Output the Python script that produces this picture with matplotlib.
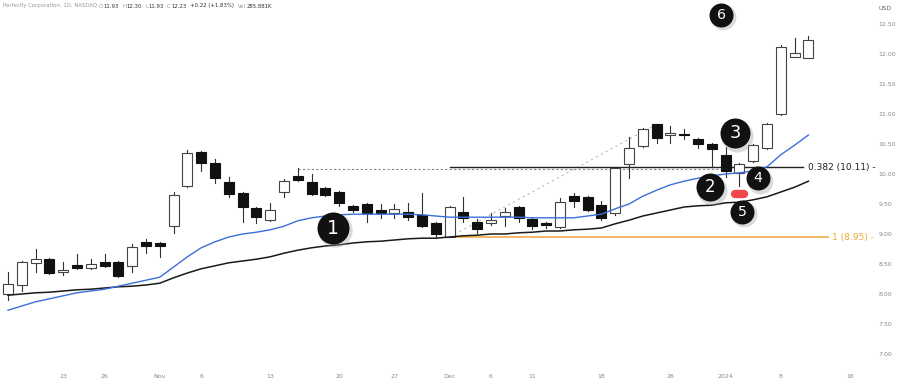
import numpy as np
from matplotlib import pyplot as plt
from matplotlib.patches import Rectangle, FancyBboxPatch

# daily OHLC, Oct 17 2023 .. Jan 10 2024
opens = [8.00, 8.15, 8.52, 8.58, 8.37, 8.48, 8.43, 8.53, 8.53, 8.47,
         8.87, 8.85, 9.13, 9.80, 10.37, 10.18, 9.87, 9.68, 9.43, 9.23,
         9.70, 9.97, 9.87, 9.77, 9.70, 9.47, 9.50, 9.40, 9.35, 9.37,
         9.32, 9.18, 8.95, 9.37, 9.20, 9.18, 9.30, 9.45, 9.25, 9.18,
         9.12, 9.63, 9.62, 9.48, 9.35, 10.17, 10.47, 10.83, 10.65, 10.67,
         10.58, 10.50, 10.32, 10.02, 10.22, 10.43, 11.00, 11.95, 11.93]
highs = [8.37, 8.55, 8.75, 8.60, 8.53, 8.67, 8.58, 8.67, 8.55, 8.83,
         8.92, 8.87, 9.70, 10.40, 10.38, 10.25, 9.95, 9.70, 9.45, 9.52,
         9.92, 10.10, 10.00, 9.78, 9.72, 9.48, 9.52, 9.50, 9.50, 9.52,
         9.68, 9.20, 9.47, 9.62, 9.25, 9.35, 9.43, 9.47, 9.27, 9.20,
         9.60, 9.68, 9.63, 9.55, 10.10, 10.62, 10.77, 10.83, 10.80, 10.75,
         10.60, 10.52, 10.45, 10.18, 10.50, 10.85, 12.15, 12.27, 12.30]
lows = [7.90, 8.05, 8.37, 8.33, 8.32, 8.42, 8.42, 8.45, 8.28, 8.37,
        8.68, 8.62, 9.02, 9.78, 10.05, 9.85, 9.62, 9.20, 9.18, 9.22,
        9.62, 9.88, 9.65, 9.63, 9.47, 9.37, 9.20, 9.27, 9.27, 9.23,
        9.12, 8.93, 8.95, 9.20, 9.02, 9.15, 9.13, 9.20, 9.08, 9.10,
        9.10, 9.45, 9.38, 9.23, 9.32, 9.93, 10.45, 10.52, 10.52, 10.58,
        10.43, 10.12, 9.95, 9.80, 10.20, 10.42, 10.98, 11.95, 11.93]
closes = [8.17, 8.53, 8.58, 8.35, 8.40, 8.43, 8.50, 8.47, 8.30, 8.78,
          8.80, 8.80, 9.65, 10.35, 10.18, 9.93, 9.67, 9.45, 9.28, 9.40,
          9.88, 9.90, 9.67, 9.65, 9.52, 9.40, 9.35, 9.35, 9.42, 9.28,
          9.13, 9.00, 9.45, 9.27, 9.08, 9.23, 9.37, 9.27, 9.13, 9.15,
          9.53, 9.55, 9.40, 9.27, 10.10, 10.43, 10.75, 10.60, 10.68, 10.65,
          10.50, 10.42, 10.05, 10.17, 10.48, 10.83, 12.12, 12.01, 12.23]

ma_fast = [7.73, 7.80, 7.87, 7.92, 7.97, 8.02, 8.05, 8.08, 8.13, 8.18,
           8.23, 8.28, 8.45, 8.62, 8.77, 8.87, 8.95, 9.00, 9.03, 9.07,
           9.13, 9.22, 9.27, 9.30, 9.32, 9.33, 9.33, 9.33, 9.33, 9.33,
           9.32, 9.30, 9.28, 9.28, 9.28, 9.28, 9.28, 9.28, 9.27, 9.27,
           9.27, 9.27, 9.30, 9.33, 9.42, 9.50, 9.63, 9.73, 9.82, 9.88,
           9.93, 9.97, 10.00, 10.02, 10.05, 10.12, 10.32, 10.48, 10.65]
ma_slow = [7.98, 8.00, 8.02, 8.03, 8.05, 8.07, 8.08, 8.10, 8.12, 8.13,
           8.15, 8.18, 8.27, 8.35, 8.42, 8.47, 8.52, 8.55, 8.58, 8.62,
           8.68, 8.73, 8.77, 8.80, 8.82, 8.85, 8.87, 8.88, 8.90, 8.92,
           8.93, 8.93, 8.95, 8.97, 8.98, 9.00, 9.00, 9.02, 9.03, 9.05,
           9.05, 9.07, 9.08, 9.10, 9.17, 9.23, 9.30, 9.35, 9.40, 9.45,
           9.47, 9.48, 9.52, 9.53, 9.57, 9.62, 9.70, 9.78, 9.88]

tick_pos = [4, 7, 11, 14, 19, 24, 28, 32, 35, 38, 43, 48, 52, 56, 61]
tick_lab = ['23', '26', 'Nov', '6', '13', '20', '27', 'Dec', '6', '11',
            '18', '26', '2024', '8', '16']
price_ticks = [7.0, 7.5, 8.0, 8.5, 9.0, 9.5, 10.0, 10.5, 11.0, 11.5, 12.0, 12.5]

# fib swing: low of Dec 1 to high of Dec 27
fib_low = (32, 8.95)
fib_high = (47, 10.83)
fib_level = 10.11
prior_high = (21, 10.09)

# numbered markers (index, price, label, radius px)
markers = [(23.55, 9.10, '1', 16), (50.9, 9.78, '2', 14), (52.7, 10.68, '3', 15),
           (54.35, 9.93, '4', 12), (53.2, 9.37, '5', 12), (51.7, 12.65, '6', 12)]
red_mark = (53.0, 9.67)

fig = plt.figure(figsize=(9, 3.85), dpi=100)
ax = fig.add_axes([0, 15 / 385, 870 / 900, 370 / 385])
px = 13.8
ax.set_xlim(-8 / px, (870 - 8) / px)
ax.set_ylim(10 - 196 / 60, 10 + 174 / 60)

w = 0.72
for i in range(len(opens)):
    o, h, l, c = opens[i], highs[i], lows[i], closes[i]
    up = c >= o
    ax.plot([i, i], [l, h], color='#333333', lw=0.8, zorder=2)
    lo, hi = min(o, c), max(o, c)
    ax.add_patch(Rectangle((i - w / 2, lo), w, max(hi - lo, 0.012),
                           facecolor='white' if up else '#111111',
                           edgecolor='#444444' if up else '#111111',
                           lw=0.8, zorder=3))

x = np.arange(len(opens))
ax.plot(x, ma_slow, color='#1a1a1a', lw=1.1, zorder=4)
ax.plot(x, ma_fast, color='#3b6fd8', lw=1.0, zorder=4)

# prior high dotted line and fib lines
ax.plot([prior_high[0], 52], [prior_high[1]] * 2, color='#888888', lw=0.8,
        ls=(0, (2, 2)), zorder=1)
ax.plot([fib_low[0], fib_high[0]], [fib_low[1], fib_high[1]], color='#bbbbbb',
        lw=0.8, ls=(0, (2, 3)), zorder=1)
ax.plot([fib_low[0], (803 - 8) / px], [fib_level] * 2, color='#222222', lw=1.0, zorder=1)
ax.plot([fib_low[0], (828 - 8) / px], [fib_low[1]] * 2, color='#f2a531', lw=1.1, zorder=1)
ax.text((808 - 8) / px, fib_level, '0.382 (10.11) -', fontsize=6.5, color='#222222',
        va='center', ha='left')
ax.text((832 - 8) / px, fib_low[1], '1 (8.95) -', fontsize=6.5, color='#f2a531',
        va='center', ha='left')

for mx, my, lab, r in markers:
    s = (2 * r * 0.72) ** 2
    ax.scatter([mx + 0.12], [my - 0.04], s=s * 1.15, color='#999999', alpha=0.35,
               zorder=6, lw=0)
    ax.scatter([mx], [my], s=s, color='#111111', zorder=7, lw=0)
    ax.text(mx, my, lab, color='white', fontsize=r * 0.85, ha='center',
            va='center', zorder=8)

# red pill under the Jan 3 candle
ax.plot([red_mark[0] - 0.35, red_mark[0] + 0.35], [red_mark[1]] * 2, color='#f04848',
        lw=6, solid_capstyle='round', zorder=6)

for sp in ax.spines.values():
    sp.set_visible(False)
ax.set_xticks(tick_pos)
ax.set_xticklabels(tick_lab)
ax.yaxis.tick_right()
ax.set_yticks(price_ticks)
ax.set_yticklabels(['%.2f' % p for p in price_ticks])
ax.tick_params(axis='both', length=0, labelsize=4.5, colors='#888888')
ax.tick_params(axis='y', pad=6)
ax.tick_params(axis='x', pad=3)

fig.text(885 / 900, 1 - 8 / 385, 'USD', fontsize=4.5, color='#666666',
         ha='center', va='center')

# header, pieces chained one after another
head = [('Perfectly Corporation, 1D, NASDAQ', '#9a9a9a', 2), ('O', '#9a9a9a', 0.5),
        ('11.93', '#333333', 3), ('H', '#9a9a9a', 0.5), ('12.30', '#333333', 3),
        ('L', '#9a9a9a', 0.5), ('11.93', '#333333', 3), ('C', '#9a9a9a', 0.5),
        ('12.23', '#333333', 4), ('+0.22 (+1.83%)', '#333333', 4),
        ('Vol', '#9a9a9a', 0.5), ('285.881K', '#333333', 0)]
renderer = fig.canvas.get_renderer()
hx = 3
for ht, hc, gap in head:
    t = fig.text(hx / 900, 1 - 6 / 385, ht, fontsize=3.9, color=hc, ha='left',
                 va='center')
    bb = t.get_window_extent(renderer=renderer)
    hx = bb.x1 + gap

fig.savefig('out.png', dpi=100)
